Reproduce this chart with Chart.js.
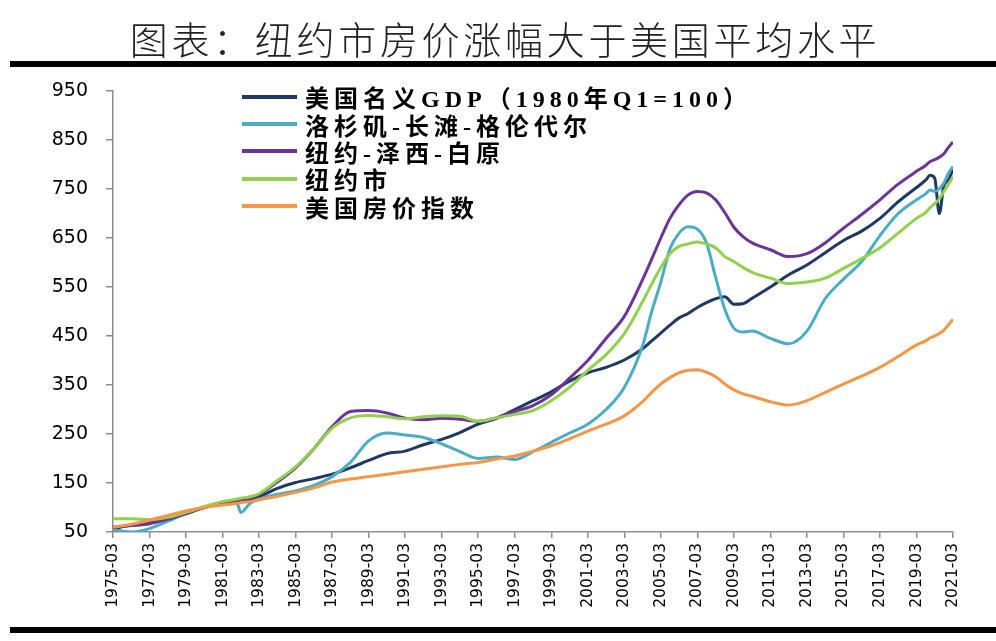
<!DOCTYPE html>
<html lang="zh">
<head>
<meta charset="utf-8">
<title>纽约市房价涨幅大于美国平均水平</title>
<script src="https://cdn.jsdelivr.net/npm/chart.js"></script>
<style>
    html, body { margin: 0; padding: 0; background: #fff; }
    #wrap { position: relative; width: 996px; height: 641px; overflow: hidden; }
    #chartBox { position: absolute; left: 0; top: 0; width: 996px; height: 641px; }
    #title {
        position: absolute; top: 17px; left: 7px; width: 996px; text-align: center;
        font-family: "Noto Sans CJK SC"; font-weight: 300; font-size: 38px; line-height: 42px;
        letter-spacing: 3.7px; color: #222;
    }
    .rule { position: absolute; left: 10px; width: 986px; height: 6px; background: #000; }
    #legend {
        position: absolute; left: 242px; top: 83px;
        font-family: "Liberation Serif", "Noto Sans CJK SC"; font-weight: bold; font-size: 24px;
        letter-spacing: 5px; color: #000; white-space: nowrap;
    }
    #legend .row { height: 27.4px; display: flex; align-items: center; }
    #legend .swatch { width: 55px; height: 4px; margin-right: 8px; flex: none; }
</style>
</head>
<body>
<div id="wrap">
    <div id="chartBox"><canvas id="houseChart"></canvas></div>
    <div id="title">图表：纽约市房价涨幅大于美国平均水平</div>
    <div id="legend"></div>
    <div class="rule" style="top:61px"></div>
    <div class="rule" style="top:627px"></div>
</div>
<script>
// quarters (year + fraction)
const years = [1975, 1976, 1977, 1978, 1979, 1980, 1981, 1981.75, 1982, 1982.5,
    1983, 1984, 1985, 1986, 1987, 1988, 1989, 1990, 1991, 1992,
    1993, 1994, 1995, 1996, 1997, 1998, 1999, 2000, 2001, 2002,
    2003, 2004, 2004.5, 2005, 2005.5, 2006, 2006.5, 2007, 2007.5, 2008,
    2008.5, 2009, 2009.5, 2010, 2011, 2012, 2013, 2014, 2015, 2016,
    2017, 2018, 2019, 2019.5, 2019.75, 2020, 2020.25, 2020.5, 2020.75, 2021];

const seriesNames = ['美国名义GDP（1980年Q1=100）', '洛杉矶-长滩-格伦代尔', '纽约-泽西-白原', '纽约市', '美国房价指数'];

const gdp = [57, 64, 70, 79, 90, 100, 111, 115, 114, 117,
    122, 139, 151, 159, 168, 181, 196, 210, 215, 228,
    239, 253, 270, 282, 300, 318, 336, 358, 375, 386,
    401, 424, 440, 456, 472, 487, 496, 508, 518, 526,
    530, 515, 516, 527, 550, 575, 595, 620, 645, 664,
    690, 724, 753, 768, 778, 772, 700, 757, 768, 790];

const laLongBeach = [55, 50, 57, 72, 88, 100, 110, 113, 90, 108,
    117, 127, 134, 145, 163, 192, 236, 252, 248, 243,
    230, 214, 200, 203, 198, 214, 233, 252, 270, 300,
    345, 430, 500, 560, 628, 660, 673, 668, 640, 570,
    505, 466, 458, 460, 445, 434, 460, 526, 566, 602,
    655, 700, 728, 740, 748, 745, 750, 762, 782, 796];

const nyNjWhitePlains = [60, 63, 67, 76, 87, 100, 108, 114, 116, 118,
    126, 152, 181, 220, 265, 296, 298, 293, 282, 279,
    282, 280, 276, 283, 296, 308, 330, 364, 400, 445,
    490, 565, 607, 650, 690, 718, 738, 745, 742, 728,
    702, 672, 653, 640, 626, 612, 618, 640, 670, 698,
    728, 760, 786, 798, 806, 810, 815, 822, 835, 846];

const nyCity = [77, 77, 75, 80, 90, 102, 112, 117, 119, 122,
    128, 155, 183, 220, 262, 283, 288, 285, 281, 285,
    287, 286, 276, 283, 290, 298, 318, 345, 380, 412,
    455, 520, 556, 590, 618, 633, 638, 642, 638, 630,
    612, 602, 590, 580, 568, 557, 560, 568, 588, 608,
    630, 660, 690, 702, 712, 720, 730, 745, 760, 775];

const usHpi = [60, 66, 74, 84, 93, 100, 105, 108, 110, 112,
    116, 123, 131, 140, 152, 158, 163, 168, 173, 178,
    183, 188, 192, 199, 205, 215, 226, 240, 256, 270,
    287, 316, 335, 352, 365, 375, 380, 381, 376, 367,
    352, 340, 332, 327, 316, 309, 318, 335, 352, 368,
    386, 408, 432, 440, 446, 450, 455, 462, 473, 484];

const xTickLabels = ['1975-03', '1977-03', '1979-03', '1981-03', '1983-03', '1985-03', '1987-03', '1989-03',
    '1991-03', '1993-03', '1995-03', '1997-03', '1999-03', '2001-03', '2003-03', '2005-03', '2007-03',
    '2009-03', '2011-03', '2013-03', '2015-03', '2017-03', '2019-03', '2021-03'];
const yTicks = [50, 150, 250, 350, 450, 550, 650, 750, 850, 950];

const colors = ['#1f3864', '#4bacc6', '#6a3596', '#92d050', '#f79646'];
const seriesValues = [gdp, laLongBeach, nyNjWhitePlains, nyCity, usHpi];

const axisGray = '#8c8c8c';

// legend sits inside the plot, top left, like the excel original
function buildLegend() {
    const box = document.getElementById('legend');
    seriesNames.forEach((name, i) => {
        const row = document.createElement('div');
        row.className = 'row';
        const sw = document.createElement('span');
        sw.className = 'swatch';
        sw.style.background = colors[i];
        const txt = document.createElement('span');
        txt.textContent = name;
        row.appendChild(sw);
        row.appendChild(txt);
        box.appendChild(row);
    });
}

function buildChart() {
    const datasets = seriesNames.map((name, i) => ({
        label: name,
        data: years.map((yr, k) => ({ x: yr, y: seriesValues[i][k] })),
        borderColor: colors[i],
        borderWidth: 3,
        pointRadius: 0,
        cubicInterpolationMode: 'monotone',
        fill: false,
        order: seriesNames.length - i
    }));

    const ctx = document.getElementById('houseChart').getContext('2d');
    return new Chart(ctx, {
        type: 'line',
        data: { datasets: datasets },
        options: {
            responsive: true,
            maintainAspectRatio: false,
            animation: false,
            layout: { padding: { top: 91, right: 43, left: 0, bottom: 0 } },
            plugins: {
                legend: { display: false },
                tooltip: { enabled: false }
            },
            scales: {
                x: {
                    type: 'linear',
                    min: 1975,
                    max: 2021,
                    afterBuildTicks: (scale) => {
                        scale.ticks = xTickLabels.map(l => ({ value: parseInt(l, 10) }));
                    },
                    afterFit: (scale) => { scale.height = 109; },
                    ticks: {
                        autoSkip: false,
                        minRotation: 90,
                        maxRotation: 90,
                        padding: 5,
                        color: '#000',
                        font: { family: 'DejaVu Sans', size: 15.5 },
                        callback: (v, i) => xTickLabels[i]
                    },
                    grid: { drawOnChartArea: false, tickLength: 6, color: axisGray, lineWidth: 1.5 },
                    border: { color: axisGray, width: 1.5 }
                },
                y: {
                    min: 50,
                    max: 950,
                    afterBuildTicks: (scale) => {
                        scale.ticks = yTicks.map(v => ({ value: v }));
                    },
                    afterFit: (scale) => { scale.width = 113; },
                    ticks: {
                        padding: 18,
                        color: '#000',
                        font: { family: 'DejaVu Sans', size: 19 }
                    },
                    grid: { drawOnChartArea: false, tickLength: 7, color: axisGray, lineWidth: 1.5 },
                    border: { color: axisGray, width: 1.5 }
                }
            }
        }
    });
}

buildLegend();
const houseChart = buildChart();
</script>
</body>
</html>
